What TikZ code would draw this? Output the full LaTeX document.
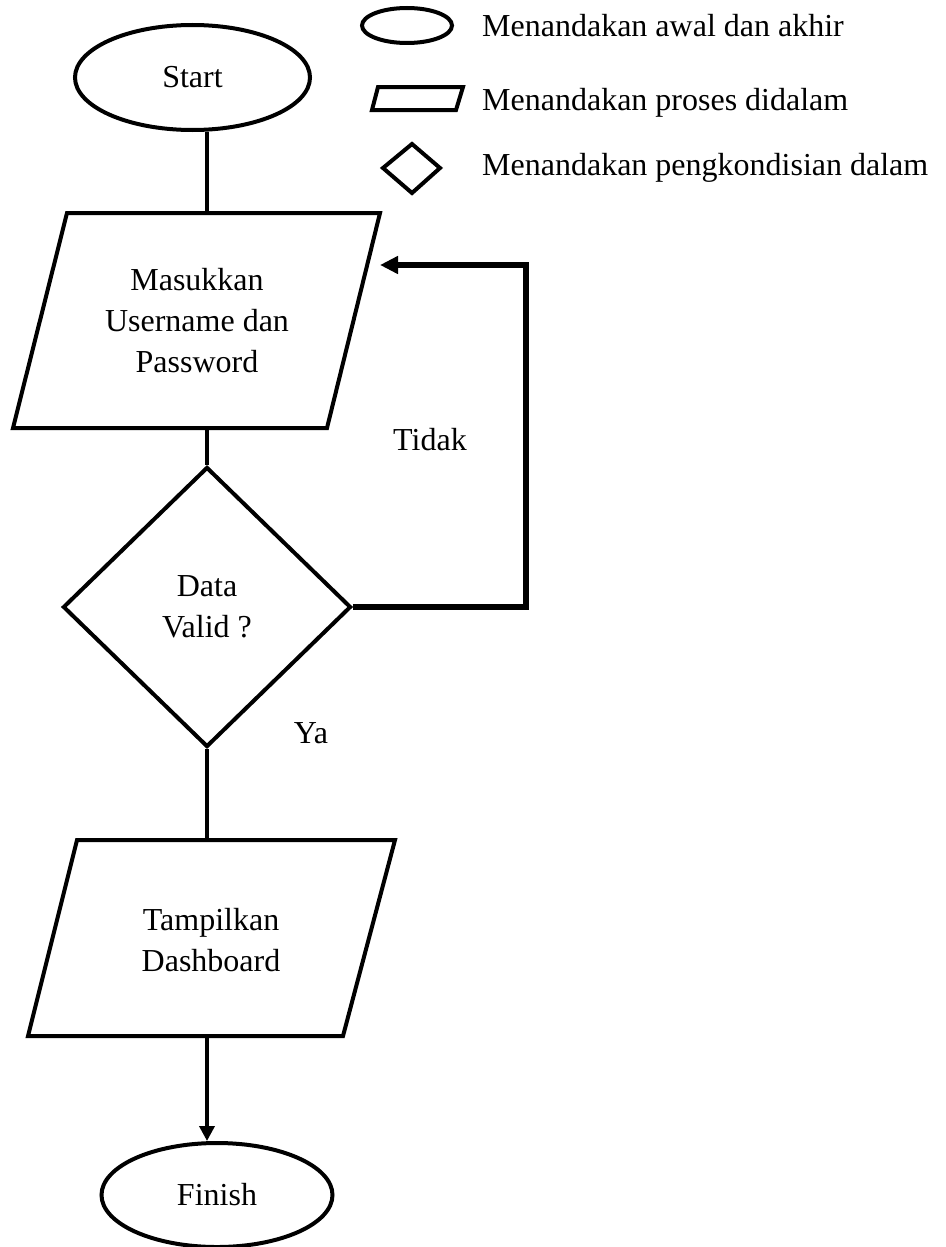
\documentclass[tikz,border=0pt]{standalone}
\usepackage{fontspec}
\setmainfont{Liberation Serif}
\usetikzlibrary{shapes.geometric,arrows.meta}
\tikzset{
  shapeline/.style={draw=black,line width=4pt,line join=miter},
  conn/.style={draw=black,line width=3.6pt},
  loopconn/.style={draw=black,line width=6pt,line join=miter},
  txt/.style={font=\fontsize{32}{41}\selectfont,align=center,inner sep=0pt},
  term/.style={shapeline,ellipse,inner sep=0pt,txt},
}
\begin{document}
\begin{tikzpicture}[x=1pt,y=-1pt]
\useasboundingbox (0,0) rectangle (945,1247);
% legend
\node[shapeline,ellipse,minimum width=90pt,minimum height=35pt,inner sep=0pt] (lg1) at (407,25.5) {};
\draw[shapeline] (378,87) -- (463,87) -- (456,110) -- (372,110) -- cycle;
\draw[shapeline] (412,144) -- (440,168) -- (412,193) -- (383,168) -- cycle;
\node[txt,anchor=base west] (lt1) at (482,37) {Menandakan awal dan akhir};
\node[txt,anchor=base west] (lt2) at (482,110) {Menandakan proses didalam};
\node[txt,anchor=base west] (lt3) at (482,175) {Menandakan pengkondisian dalam};
% start
\node[term,minimum width=235pt,minimum height=105pt] (st) at (192.5,77.5) {Start};
% input
\draw[shapeline] (67,213) -- (380,213) -- (327,428) -- (13,428) -- cycle;
\node[txt] (p1) at (197,321) {Masukkan\\Username dan\\Password};
\coordinate (p1n) at (207,213);
\coordinate (p1s) at (207,428);
% decision
\node[shapeline,diamond,minimum width=288pt,minimum height=280pt,inner sep=0pt,txt] (dv) at (207,607) {Data\\Valid ?};
% output
\draw[shapeline] (77,840) -- (395,840) -- (343,1036) -- (28,1036) -- cycle;
\node[txt] (p2) at (211,940) {Tampilkan\\Dashboard};
\coordinate (p2n) at (207,840);
\coordinate (p2s) at (207,1036);
% finish
\node[term,minimum width=231pt,minimum height=104pt] (fin) at (217,1195) {Finish};
% connectors
\draw[conn] (st.south -| p1n) -- (p1n);
\draw[conn] (p1s) -- (dv.north);
\draw[conn] (dv.south) -- (p2n);
\draw[conn,-{Triangle[length=15pt,width=15pt]}] (p2s) -- (p2s |- fin.north);
\coordinate (loopin) at (380,265);
\draw[loopconn,-{Triangle[length=18pt,width=17pt]}] (dv.east) -- (526,607) -- (526,265) -- (loopin);
% labels
\node[txt,anchor=base] (tidak) at (430,450) {Tidak};
\node[txt,anchor=base] (ya) at (311,743) {Ya};
\end{tikzpicture}
\end{document}
